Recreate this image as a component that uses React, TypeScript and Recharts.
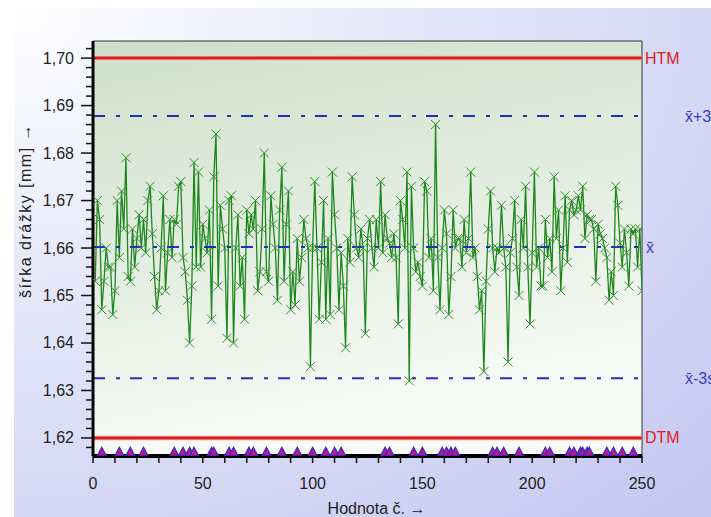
import React from 'react';
import { ComposedChart, Line, Scatter, XAxis, YAxis, ReferenceLine, ReferenceArea, Label } from 'recharts';

// measured groove width [mm], sample 1..250
const widthValues: number[] = [
  1.653, 1.670, 1.666, 1.647, 1.653, 1.660, 1.656, 1.656, 1.646, 1.651,
  1.670, 1.658, 1.672, 1.664, 1.679, 1.654, 1.653, 1.664, 1.656, 1.662,
  1.667, 1.660, 1.666, 1.659, 1.670, 1.673, 1.663, 1.654, 1.647, 1.651,
  1.660, 1.671, 1.651, 1.659, 1.666, 1.658, 1.666, 1.665, 1.673, 1.674,
  1.658, 1.655, 1.649, 1.640, 1.652, 1.678, 1.656, 1.676, 1.656, 1.665,
  1.662, 1.659, 1.668, 1.645, 1.675, 1.684, 1.652, 1.669, 1.664, 1.660,
  1.641, 1.670, 1.671, 1.640, 1.660, 1.667, 1.652, 1.658, 1.645, 1.668,
  1.663, 1.667, 1.664, 1.670, 1.651, 1.655, 1.664, 1.680, 1.655, 1.653,
  1.671, 1.665, 1.660, 1.649, 1.668, 1.677, 1.653, 1.665, 1.672, 1.647,
  1.655, 1.648, 1.662, 1.653, 1.658, 1.666, 1.662, 1.660, 1.635, 1.660,
  1.674, 1.660, 1.645, 1.657, 1.670, 1.645, 1.662, 1.646, 1.676, 1.667,
  1.660, 1.647, 1.659, 1.652, 1.639, 1.662, 1.657, 1.675, 1.667, 1.660,
  1.658, 1.664, 1.660, 1.642, 1.662, 1.666, 1.660, 1.656, 1.666, 1.660,
  1.674, 1.659, 1.667, 1.662, 1.661, 1.658, 1.663, 1.658, 1.644, 1.670,
  1.666, 1.660, 1.676, 1.632, 1.673, 1.660, 1.655, 1.657, 1.654, 1.652,
  1.674, 1.672, 1.658, 1.662, 1.651, 1.686, 1.658, 1.647, 1.660, 1.668,
  1.663, 1.646, 1.654, 1.668, 1.660, 1.662, 1.662, 1.656, 1.666, 1.659,
  1.662, 1.676, 1.658, 1.660, 1.654, 1.647, 1.651, 1.634, 1.653, 1.664,
  1.672, 1.660, 1.655, 1.660, 1.659, 1.669, 1.660, 1.656, 1.636, 1.659,
  1.662, 1.670, 1.656, 1.650, 1.666, 1.660, 1.673, 1.656, 1.644, 1.659,
  1.676, 1.656, 1.660, 1.652, 1.652, 1.666, 1.658, 1.662, 1.655, 1.675,
  1.662, 1.668, 1.651, 1.660, 1.671, 1.657, 1.668, 1.670, 1.667, 1.668,
  1.671, 1.668, 1.673, 1.662, 1.667, 1.666, 1.666, 1.664, 1.653, 1.665,
  1.663, 1.662, 1.660, 1.658, 1.649, 1.655, 1.650, 1.673, 1.669, 1.661,
  1.656, 1.664, 1.659, 1.652, 1.664, 1.663, 1.664, 1.656, 1.664, 1.651,
];

// sample numbers flagged by triangles at the bottom
const flaggedSamples: number[] = [
  4, 12, 17, 23, 37, 41, 44, 46, 54, 55, 62, 64, 71, 73, 79, 86, 93, 100, 106, 110, 113,
  133, 135, 146, 150, 159, 161, 163, 165, 182, 184, 187, 194, 206, 208, 217, 219, 222,
  223, 225, 226, 234, 237, 241, 246,
];
const flagLevel = 1.6171;

const HTM = 1.7;
const DTM = 1.62;
const MEAN = 1.6602;
const UCL = 1.6878;
const LCL = 1.6326;

const yMajorTicks: number[] = [1.62, 1.63, 1.64, 1.65, 1.66, 1.67, 1.68, 1.69, 1.7];
const yAllTicks: number[] = Array.from({ length: 43 }, (_, i) => Math.round((1.618 + i * 0.002) * 1000) / 1000);
const xAllTicks: number[] = Array.from({ length: 26 }, (_, i) => i * 10);
const xLabelTicks: number[] = [0, 50, 100, 150, 200, 250];
const Y_DOMAIN: [number, number] = [1.6162, 1.7036];

const seriesData = widthValues.map((v, i) => ({ n: i + 1, w: v }));
const flagData = flaggedSamples.map((n) => ({ n, w: flagLevel }));

const FONT = '"Liberation Sans", Arial, sans-serif';

const isMajorY = (v: number) => yMajorTicks.some((m) => Math.abs(m - v) < 1e-6);

const YTick = (props: any) => {
  const { x, y, payload } = props;
  const major = isMajorY(payload.value);
  const len = major ? 12 : 7;
  return (
    <g>
      <line x1={x - len} x2={x} y1={y} y2={y} stroke="#111" strokeWidth={1.5} />
      {major && (
        <text x={x - 19} y={y} textAnchor="end" dominantBaseline="central" fontSize={16} fontFamily={FONT} fill="#222">
          {payload.value.toFixed(2).replace('.', ',')}
        </text>
      )}
    </g>
  );
};

const XTick = (props: any) => {
  const { x, y, payload } = props;
  const major = xLabelTicks.includes(payload.value);
  return (
    <g>
      <line x1={x} x2={x} y1={y} y2={y + 7} stroke="#111" strokeWidth={1.5} />
      {major && (
        <text x={x} y={y + 27} textAnchor="middle" dominantBaseline="central" fontSize={16} fontFamily={FONT} fill="#222">
          {payload.value}
        </text>
      )}
    </g>
  );
};

const XDot = (props: any) => {
  const { cx, cy, index } = props;
  if (cx == null || cy == null) return <g key={`d${index}`} />;
  const r = 4.5;
  return (
    <g key={`d${index}`}>
      <line x1={cx - r} y1={cy - r} x2={cx + r} y2={cy + r} stroke="#2f8f2f" strokeWidth={1} />
      <line x1={cx - r} y1={cy + r} x2={cx + r} y2={cy - r} stroke="#2f8f2f" strokeWidth={1} />
    </g>
  );
};

const Tri = (props: any) => {
  const { cx, cy } = props;
  return (
    <path
      d={`M${cx - 4.5},${cy + 4} L${cx},${cy - 4.5} L${cx + 4.5},${cy + 4} Z`}
      fill="#c2187c"
      stroke="#2a2ad8"
      strokeWidth={1.2}
    />
  );
};

const rightLabel = (text: string, color: string, dx: number) => (p: any) => {
  const vb = p.viewBox || {};
  return (
    <text
      x={vb.x + vb.width + dx}
      y={vb.y}
      dominantBaseline="central"
      fontSize={16}
      fontFamily={FONT}
      fill={color}
    >
      {text}
    </text>
  );
};

const dashStyle = '12 11 4 10';

export default function App() {
  return (
    <div style={{ position: 'absolute', left: 0, top: 0, width: 711, height: 517, background: '#fff', overflow: 'hidden' }}>
      <div
        style={{
          position: 'absolute',
          left: 14,
          top: 8,
          width: 697,
          height: 509,
          background: 'radial-gradient(ellipse at 0% 0%, #ffffff 0%, #eceefb 28%, #c4c7f1 100%)',
        }}
      />
      <div style={{ position: 'absolute', left: 0, top: 0 }}>
        <ComposedChart width={711} height={517} data={seriesData} margin={{ top: 41, right: 69, bottom: 0, left: 0 }}>
          <defs>
            <linearGradient id="plotBg" x1="0" y1="0" x2="0.25" y2="1">
              <stop offset="0%" stopColor="#cde0c8" />
              <stop offset="55%" stopColor="#e5eee2" />
              <stop offset="100%" stopColor="#f9fbf8" />
            </linearGradient>
          </defs>
          <ReferenceArea x1={0} x2={250} y1={Y_DOMAIN[0]} y2={Y_DOMAIN[1]} fill="url(#plotBg)" fillOpacity={1} stroke="#333" strokeWidth={1} ifOverflow="visible" />
          <XAxis
            type="number"
            dataKey="n"
            domain={[0, 250]}
            ticks={xAllTicks}
            interval={0}
            allowDataOverflow
            height={61}
            axisLine={{ stroke: '#000', strokeWidth: 4 }}
            tickLine={false}
            tickSize={0}
            tickMargin={0}
            tick={<XTick />}
          >
            <Label
              content={(p: any) => {
                const vb = p.viewBox || {};
                return (
                  <text x={vb.x + vb.width / 2 + 9} y={508} textAnchor="middle" dominantBaseline="central" fontSize={16} fontFamily={FONT} fill="#222">
                    Hodnota č. →
                  </text>
                );
              }}
            />
          </XAxis>
          <YAxis
            type="number"
            domain={Y_DOMAIN}
            ticks={yAllTicks}
            interval={0}
            allowDataOverflow
            width={93}
            axisLine={{ stroke: '#000', strokeWidth: 3 }}
            tickLine={false}
            tickSize={0}
            tickMargin={0}
            tick={<YTick />}
          >
            <Label
              content={(p: any) => {
                const vb = p.viewBox || {};
                const cx = 25;
                const cy = vb.y + vb.height / 2 - 38;
                return (
                  <text
                    x={cx}
                    y={cy}
                    transform={`rotate(-90 ${cx} ${cy})`}
                    textAnchor="middle"
                    dominantBaseline="central"
                    fontSize={16}
                    letterSpacing={1.5}
                    fontFamily={FONT}
                    fill="#222"
                  >
                    šírka drážky [mm] →
                  </text>
                );
              }}
            />
          </YAxis>
          <ReferenceLine y={HTM} stroke="#f6c4bf" strokeWidth={5} />
          <ReferenceLine y={HTM} stroke="#d81e1e" strokeWidth={3} label={rightLabel('HTM', '#e02020', 3)} />
          <ReferenceLine y={DTM} stroke="#f6c4bf" strokeWidth={5} />
          <ReferenceLine y={DTM} stroke="#d81e1e" strokeWidth={3} label={rightLabel('DTM', '#e02020', 3)} />
          <ReferenceLine y={UCL} stroke="#2230b8" strokeWidth={2} strokeDasharray={dashStyle} label={rightLabel('x̄+3s', '#3a3ac8', 43)} />
          <ReferenceLine y={LCL} stroke="#2230b8" strokeWidth={2} strokeDasharray={dashStyle} label={rightLabel('x̄-3s', '#3a3ac8', 43)} />
          <Line
            dataKey="w"
            stroke="#1d871d"
            strokeWidth={1.3}
            dot={(p: any) => <XDot key={`dot-${p.index}`} {...p} />}
            activeDot={false}
            isAnimationActive={false}
          />
          <ReferenceLine y={MEAN} stroke="#2230b8" strokeWidth={2} strokeDasharray={dashStyle} label={rightLabel('x̄', '#3a3ac8', 4)} />
          <Scatter data={flagData} dataKey="w" shape={<Tri />} isAnimationActive={false} />
        </ComposedChart>
      </div>
    </div>
  );
}
